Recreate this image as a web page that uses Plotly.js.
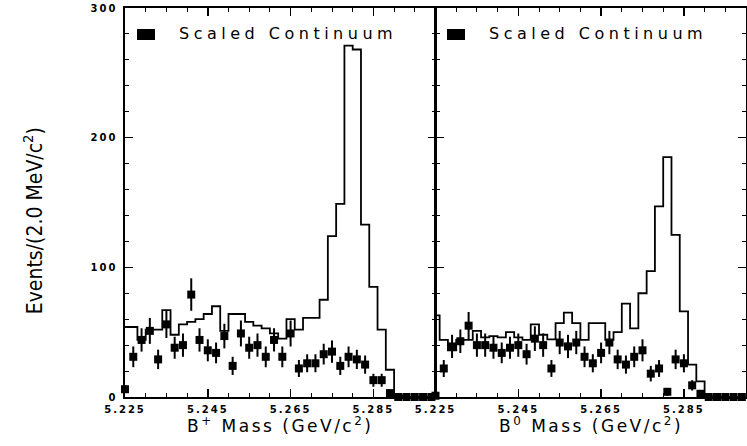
<!DOCTYPE html>
<html>
<head>
<meta charset="utf-8">
<script src="https://cdn.plot.ly/plotly-3.0.1.min.js"></script>
<style>
  html, body { margin: 0; padding: 0; background: #fff; }
  #chart { width: 747px; height: 446px; }
  .xtick text, .x2tick text, .ytick text { letter-spacing: 2px; }
  g.annotation[data-index="1"] text, g.annotation[data-index="2"] text { letter-spacing: 4.5px; }
  g.annotation[data-index="3"] text, g.annotation[data-index="4"] text { letter-spacing: 2.5px; }
</style>
</head>
<body>
<div id="chart"></div>
<script>
// Bin centres, 2.0 MeV/c^2 bins (GeV/c^2)
const binCenters = [5.225, 5.227, 5.229, 5.231, 5.233, 5.235, 5.237, 5.239, 5.241, 5.243,
                    5.245, 5.247, 5.249, 5.251, 5.253, 5.255, 5.257, 5.259, 5.261, 5.263,
                    5.265, 5.267, 5.269, 5.271, 5.273, 5.275, 5.277, 5.279, 5.281, 5.283,
                    5.285, 5.287, 5.289, 5.291, 5.293, 5.295, 5.297, 5.299];

// B+ : on-resonance data histogram
const bPlusData = [54, 54, 44, 52, 52, 67, 48, 56, 58, 60,
                   64, 70, 51, 64, 64, 58, 55, 53, 49, 45,
                   60, 52, 61, 61, 75, 124, 149, 271, 268, 133,
                   85, 52, 21, 1, 0, 0, 0, 0];
// B+ : scaled continuum points and errors
const bPlusCont = [6, 31, 44, 51, 29, 56, 38, 40, 79, 44,
                   36, 34, 47, 24, 49, 38, 40, 31, 44, 31,
                   49, 22, 26, 26, 33, 35, 24, 31, 29, 25,
                   13, 13, 3, 0, 0, 0, 0, 0];
const bPlusErr  = [3, 8, 9, 10, 7.5, 10.5, 8.5, 9, 12.5, 9,
                   8.5, 8, 9.5, 7, 10, 8.5, 9, 8, 9, 8,
                   10, 6.5, 7, 7, 8, 8.5, 7, 8, 7.5, 7,
                   5, 5, 2.5, 0, 0, 0, 0, 0];

// B0 : on-resonance data histogram
const bZeroData = [63, 44, 36, 44, 44, 51, 46, 47, 46, 50,
                   46, 44, 56, 48, 44.5, 57, 65, 57, 44, 57,
                   57, 44, 50, 72, 53, 80, 97, 147, 185, 125,
                   66, 25, 12, 0.5, 0, 0, 0, 0];
// B0 : scaled continuum points and errors
const bZeroCont = [1, 22, 39, 43, 55, 40, 40, 38, 34, 38,
                   40, 33, 45, 40, 22, 42, 39, 42, 31, 26,
                   34, 42, 29, 25, 31, 36, 18, 22, 4, 29,
                   26, 9, 2.5, 0, 0, 0, 0, 0];
const bZeroErr  = [1.5, 6.5, 9, 9, 10.5, 9, 9, 8.5, 8, 8.5,
                   9, 8, 9.5, 9, 6.5, 9, 9, 9, 8, 7,
                   8, 9, 7.5, 7, 8, 8.5, 6, 6.5, 3, 7.5,
                   7, 4, 2.5, 0, 0, 0, 0, 0];

const xTickStart = 5.225;
const legendLabel = 'Scaled Continuum';
const yTitle = 'Events/(2.0 MeV/c<sup>2</sup>)';
const xTitlePlus = 'B<sup>+</sup> Mass (GeV/c<sup>2</sup>)';
const xTitleZero = 'B<sup>0</sup> Mass (GeV/c<sup>2</sup>)';

const histLine = { color: '#000', width: 1.8, shape: 'hvh' };
const contMarker = { symbol: 'square', size: 8, color: '#000' };
const errStyle = (arr) => ({ type: 'data', array: arr, visible: true, color: '#000', thickness: 2, width: 0 });

const traces = [
  { x: binCenters, y: bPlusData, type: 'scatter', mode: 'lines', line: histLine,
    xaxis: 'x', yaxis: 'y', hoverinfo: 'skip' },
  { x: binCenters, y: bPlusCont, type: 'scatter', mode: 'markers', marker: contMarker,
    error_y: errStyle(bPlusErr), cliponaxis: false, xaxis: 'x', yaxis: 'y' },
  { x: binCenters, y: bZeroData, type: 'scatter', mode: 'lines', line: histLine,
    xaxis: 'x2', yaxis: 'y2', hoverinfo: 'skip' },
  { x: binCenters, y: bZeroCont, type: 'scatter', mode: 'markers', marker: contMarker,
    error_y: errStyle(bZeroErr), cliponaxis: false, xaxis: 'x2', yaxis: 'y2' }
];

const tickFont = { family: 'DejaVu Sans', size: 10, color: '#000', weight: 'bold' };
const titleFont = { family: 'DejaVu Sans', size: 17, color: '#000' };
const legendFont = { family: 'DejaVu Sans', size: 16, color: '#000' };

function massAxis(domain, anchor) {
  return {
    domain: domain, anchor: anchor,
    range: [5.225, 5.300],
    tick0: xTickStart, dtick: 0.02, tickformat: '.3f',
    ticks: 'inside', ticklen: 8, tickwidth: 1.5, tickcolor: '#000',
    minor: { tick0: xTickStart, dtick: 0.005, ticks: 'inside', ticklen: 4, tickwidth: 1, tickcolor: '#000' },
    showline: true, linewidth: 2, linecolor: '#000', mirror: 'ticks',
    showgrid: false, zeroline: false,
    tickfont: tickFont, ticklabelstandoff: 2
  };
}

function eventsAxis(anchor, showLabels) {
  return {
    anchor: anchor, domain: [0, 1],
    range: [0, 300], tick0: 0, dtick: 100,
    ticks: 'inside', ticklen: 8, tickwidth: 1.5, tickcolor: '#000',
    minor: { dtick: 20, ticks: 'inside', ticklen: 4, tickwidth: 1, tickcolor: '#000' },
    showline: true, linewidth: 1.6, linecolor: '#000', mirror: 'ticks',
    showgrid: false, zeroline: false,
    showticklabels: showLabels, tickfont: tickFont, ticklabelstandoff: 4
  };
}

const layout = {
  width: 747, height: 446,
  margin: { l: 125, r: 1, t: 8, b: 49 },
  paper_bgcolor: '#fff', plot_bgcolor: '#fff',
  showlegend: false,
  xaxis: massAxis([0, 0.5], 'y'),
  xaxis2: massAxis([0.5, 1], 'y2'),
  yaxis: eventsAxis('x', true),
  yaxis2: eventsAxis('x2', false),
  annotations: [
    { text: yTitle, xref: 'paper', yref: 'paper',
      x: -0.148, y: 0.452, xanchor: 'center', yanchor: 'middle', textangle: -90,
      showarrow: false,
      font: { family: 'Liberation Sans Narrow, DejaVu Sans Condensed, sans-serif', size: 21, color: '#000' } },
    { text: legendLabel, xref: 'paper', yref: 'paper', x: 0.2625, y: 0.9357,
      xanchor: 'center', yanchor: 'middle', showarrow: false, font: legendFont },
    { text: legendLabel, xref: 'paper', yref: 'paper', x: 0.7617, y: 0.9357,
      xanchor: 'center', yanchor: 'middle', showarrow: false, font: legendFont },
    { text: xTitlePlus, xref: 'paper', yref: 'paper', x: 0.25, y: -0.072,
      xanchor: 'center', yanchor: 'middle', showarrow: false, font: titleFont },
    { text: xTitleZero, xref: 'paper', yref: 'paper', x: 0.75, y: -0.072,
      xanchor: 'center', yanchor: 'middle', showarrow: false, font: titleFont }
  ],
  shapes: [
    // legend keys
    { type: 'rect', xref: 'paper', yref: 'paper', x0: 0.0193, x1: 0.0483, y0: 0.9177, y1: 0.946,
      fillcolor: '#000', line: { width: 0 } },
    { type: 'rect', xref: 'paper', yref: 'paper', x0: 0.5185, x1: 0.5475, y0: 0.9177, y1: 0.946,
      fillcolor: '#000', line: { width: 0 } }
  ]
};

Plotly.newPlot('chart', traces, layout, { staticPlot: true, displayModeBar: false });
</script>
</body>
</html>
